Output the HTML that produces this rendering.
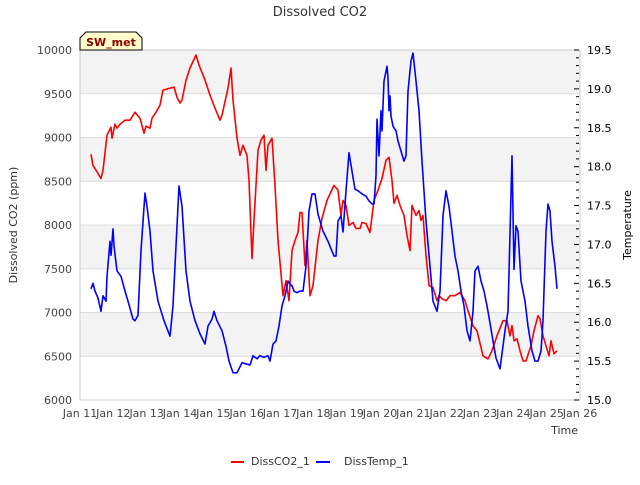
<!DOCTYPE html>
<html><head><meta charset="utf-8"><style>
body{margin:0;background:#fff;font-family:"Liberation Sans","DejaVu Sans",sans-serif;}
svg text{font-family:"DejaVu Sans","Liberation Sans",sans-serif;}
</style></head><body>
<svg id="chart" width="640" height="480" xmlns="http://www.w3.org/2000/svg">
<rect width="640" height="480" fill="#fff"/>
<text x="320" y="16" text-anchor="middle" font-size="13" fill="#333">Dissolved CO2</text>
<g id="bands"></g>
<g id="axes"></g>
<g id="series"></g>
<g>
<path d="M80,50 L80,38 L86,32 L136,32 L142,38 L142,50 Z" fill="#ffffcc" stroke="#000" stroke-width="1"/>
<text x="111" y="46" text-anchor="middle" font-size="11" font-weight="bold" fill="#8b0000">SW_met</text>
</g>
<text transform="translate(17,225) rotate(-90)" text-anchor="middle" font-size="11" fill="#333">Dissolved CO2 (ppm)</text>
<text transform="translate(631,225) rotate(-90)" text-anchor="middle" font-size="11" fill="#000">Temperature</text>
<text x="578" y="434" text-anchor="end" font-size="11" fill="#333">Time</text>
<g>
<g><line x1="231" y1="462" x2="244" y2="462" stroke="#f00" stroke-width="2"/><text x="251" y="465" font-size="11" fill="#333">DissCO2_1</text></g>
<g><line x1="316" y1="462" x2="330" y2="462" stroke="#00f" stroke-width="2"/><text x="344" y="465" font-size="11" fill="#333">DissTemp_1</text></g>
</g>
</svg>
<script>
const co2Days=[11.33,11.39,11.63,11.69,11.81,11.93,11.96,12.05,12.11,12.20,12.35,12.50,12.65,12.80,12.92,12.98,13.10,13.16,13.28,13.40,13.49,13.70,13.82,13.91,14.00,14.06,14.18,14.30,14.48,14.57,14.75,14.90,15.05,15.20,15.26,15.44,15.50,15.53,15.59,15.71,15.80,15.89,16.01,16.07,16.16,16.22,16.34,16.43,16.52,16.58,16.64,16.76,16.85,16.94,17.09,17.18,17.27,17.36,17.45,17.54,17.60,17.66,17.75,17.81,17.90,17.99,18.14,18.26,18.41,18.62,18.74,18.83,18.89,18.98,19.07,19.19,19.28,19.40,19.46,19.58,19.70,19.82,19.94,20.06,20.18,20.27,20.36,20.42,20.51,20.60,20.72,20.81,20.90,20.96,21.08,21.17,21.23,21.29,21.38,21.47,21.59,21.71,21.77,21.86,21.98,22.10,22.25,22.40,22.55,22.64,22.79,22.91,23.09,23.24,23.36,23.51,23.69,23.81,23.90,23.96,24.02,24.11,24.20,24.29,24.38,24.53,24.62,24.74,24.80,24.89,24.98,25.07,25.13,25.22,25.31];
const co2Vals=[8808,8682,8533,8625,9026,9118,8992,9152,9106,9152,9198,9198,9289,9221,9049,9129,9106,9221,9289,9370,9542,9565,9576,9461,9393,9427,9656,9794,9943,9828,9656,9484,9335,9198,9255,9565,9713,9794,9427,8992,8797,8911,8797,8510,7616,8052,8854,8969,9026,8625,8911,8992,8453,7823,7192,7364,7135,7708,7823,7914,8143,8143,7536,7823,7192,7307,7823,8075,8281,8453,8396,8109,8281,8224,7994,8029,7960,7960,8029,8017,7914,8281,8396,8533,8739,8774,8510,8247,8338,8224,8109,7880,7708,8224,8109,8166,8052,8109,7651,7307,7284,7135,7192,7158,7135,7192,7192,7227,7135,7020,6848,6791,6505,6470,6562,6734,6906,6906,6734,6849,6677,6700,6562,6447,6447,6620,6791,6963,6929,6734,6620,6505,6677,6528,6562];
const tempDays=[11.33,11.39,11.45,11.54,11.63,11.69,11.78,11.81,11.90,11.93,11.99,12.02,12.11,12.23,12.35,12.44,12.59,12.65,12.74,12.83,12.95,13.01,13.10,13.19,13.34,13.52,13.70,13.79,13.88,13.97,14.06,14.18,14.30,14.45,14.60,14.75,14.84,14.96,15.02,15.11,15.26,15.38,15.47,15.59,15.71,15.86,16.01,16.10,16.19,16.31,16.40,16.52,16.64,16.70,16.79,16.88,16.97,17.06,17.15,17.24,17.30,17.36,17.42,17.51,17.60,17.69,17.78,17.87,17.96,18.05,18.14,18.29,18.44,18.62,18.68,18.74,18.83,18.89,18.98,19.07,19.16,19.25,19.34,19.46,19.58,19.67,19.76,19.82,19.88,19.91,19.97,20.03,20.06,20.12,20.21,20.24,20.27,20.30,20.33,20.39,20.48,20.54,20.63,20.72,20.78,20.84,20.93,20.99,21.08,21.17,21.26,21.38,21.50,21.59,21.71,21.80,21.89,21.98,22.07,22.16,22.25,22.34,22.43,22.52,22.61,22.70,22.79,22.85,22.94,23.03,23.12,23.21,23.30,23.39,23.48,23.60,23.75,23.84,23.96,24.02,24.08,24.14,24.23,24.35,24.44,24.56,24.65,24.74,24.83,24.89,24.98,25.04,25.10,25.16,25.25,25.31];
const tempVals=[16.43,16.50,16.40,16.31,16.14,16.34,16.27,16.59,17.04,16.86,17.20,16.98,16.66,16.59,16.40,16.27,16.04,16.02,16.09,16.92,17.66,17.49,17.17,16.66,16.27,16.02,15.82,16.21,16.98,17.75,17.49,16.66,16.27,16.02,15.85,15.72,15.95,16.04,16.14,16.02,15.89,15.69,15.50,15.35,15.35,15.48,15.46,15.45,15.57,15.53,15.57,15.55,15.57,15.50,15.72,15.76,15.95,16.21,16.34,16.53,16.49,16.47,16.40,16.38,16.40,16.40,16.72,17.43,17.65,17.65,17.39,17.17,17.04,16.85,16.85,17.30,17.37,17.16,17.69,18.18,17.94,17.71,17.69,17.65,17.62,17.56,17.52,17.52,17.88,18.61,18.14,18.72,18.46,19.10,19.29,19.14,18.72,18.91,18.65,18.52,18.46,18.33,18.20,18.07,18.14,18.97,19.36,19.46,19.10,18.72,18.07,17.30,16.72,16.27,16.14,16.40,17.37,17.69,17.49,17.17,16.85,16.66,16.40,16.21,15.89,15.76,16.14,16.66,16.72,16.53,16.40,16.21,15.99,15.76,15.54,15.40,15.89,16.14,18.14,16.68,17.24,17.17,16.53,16.27,15.95,15.63,15.50,15.50,15.63,16.02,17.17,17.52,17.43,17.04,16.72,16.43];
const xTickDays=[11,12,13,14,15,16,17,18,19,20,21,22,23,24,25,26];
const xTickLabels=["Jan 11","Jan 12","Jan 13","Jan 14","Jan 15","Jan 16","Jan 17","Jan 18","Jan 19","Jan 20","Jan 21","Jan 22","Jan 23","Jan 24","Jan 25","Jan 26"];
const yTicks=[6000,6500,7000,7500,8000,8500,9000,9500,10000];
const y2Ticks=[15.0,15.5,16.0,16.5,17.0,17.5,18.0,18.5,19.0,19.5];

const L=80,R=580,T=50,B=400;
const xS=d=>L+(d-11)/15*(R-L);
const yS=v=>B-(v-6000)/4000*(B-T);
const y2S=v=>B-(v-15)/4.5*(B-T);
const NS="http://www.w3.org/2000/svg";
function mk(tag,attrs,parent){const e=document.createElementNS(NS,tag);for(const k in attrs)e.setAttribute(k,attrs[k]);parent.appendChild(e);return e;}
const bands=document.getElementById('bands'),axes=document.getElementById('axes'),ser=document.getElementById('series');
for(let i=0;i<yTicks.length-1;i++){
  if(i%2===1){const r=mk('rect',{x:L,y:yS(yTicks[i+1]),width:R-L,height:yS(yTicks[i])-yS(yTicks[i+1]),fill:'#f3f3f3'},bands);
  
  }
}
yTicks.forEach(v=>{
  const g=mk('line',{x1:L,x2:R,y1:yS(v),y2:yS(v),stroke:'#dcdcdc','stroke-width':1},bands);
  
  
  const t=mk('text',{x:72,y:yS(v)+4,'text-anchor':'end','font-size':11,fill:'#444'},axes);
  t.textContent=v;
  
  
});
mk('rect',{x:L,y:T,width:R-L,height:B-T,fill:'none',stroke:'#ccc','stroke-width':1},axes);
for(let i=0;i<=45;i++){
  const v=15+i*0.1,y=y2S(v),major=i%5===0;
  mk('line',{x1:major?574:576,x2:579,y1:y,y2:y,stroke:'#000','stroke-width':1},axes);
}
y2Ticks.forEach(v=>{
  const t=mk('text',{x:587,y:y2S(v)+4,'font-size':11,fill:'#000'},axes);
  t.textContent=v.toFixed(1);
  
  
});
xTickDays.forEach((d,i)=>{
  const t=mk('text',{x:xS(d),y:417,'text-anchor':'middle','font-size':11,fill:'#444'},axes);
  t.textContent=xTickLabels[i];
  
  
});
const p1=mk('polyline',{points:co2Days.map((d,i)=>xS(d).toFixed(1)+','+yS(co2Vals[i]).toFixed(1)).join(' '),fill:'none',stroke:'#f00','stroke-width':1.6,'stroke-linejoin':'round'},ser);


const p2=mk('polyline',{points:tempDays.map((d,i)=>xS(d).toFixed(1)+','+y2S(tempVals[i]).toFixed(1)).join(' '),fill:'none',stroke:'#00f','stroke-width':1.6,'stroke-linejoin':'round'},ser);


</script>
</body></html>
